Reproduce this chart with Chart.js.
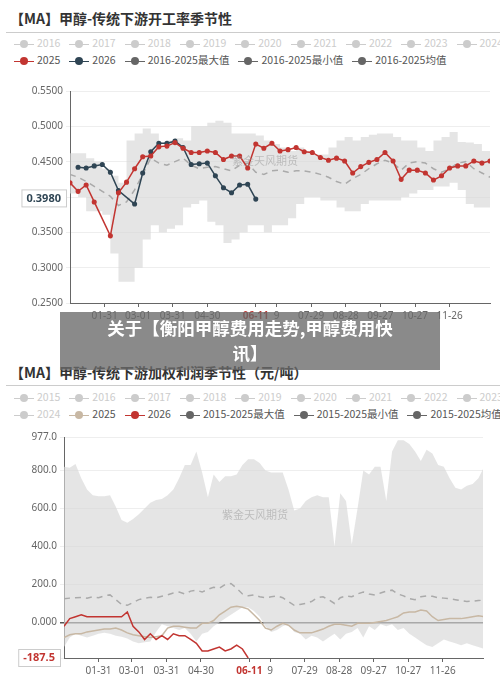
<!DOCTYPE html>
<html><head><meta charset="utf-8">
<script src="https://cdn.jsdelivr.net/npm/chart.js@4"></script>
<style>
body{margin:0;background:#fff;font-family:"Noto Sans CJK SC","Noto Sans",sans-serif;}
#wrap{position:relative;width:500px;height:681px;overflow:hidden;background:#fff}
.t{position:absolute;left:10px;font-weight:bold;font-size:14px;color:#333;font-family:"Noto Sans CJK SC";}
.hr{position:absolute;left:6px;right:0;height:1px;background:#ccc}
.lg{position:absolute;left:14px;font-size:10.5px;color:#555;white-space:nowrap}
.lg span{display:inline-block;margin-right:9px}
.lg i{display:inline-block;position:relative;width:20px;height:8px;vertical-align:middle;margin-right:3px}
.lg i:before{content:"";position:absolute;left:0;right:0;top:3.5px;height:1px;background:currentColor}
.lg i:after{content:"";position:absolute;left:6px;top:0;width:8px;height:8px;border-radius:50%;background:currentColor}
.g{color:#ccc}
canvas{position:absolute;left:0}
.wm{position:absolute;font-size:11px;color:rgba(150,150,150,0.5)}
#ban{position:absolute;left:60px;top:312px;width:380px;height:58px;background:rgba(105,105,105,0.78);color:#fff;font-weight:bold;font-size:17.5px;text-align:center;line-height:25px;padding-top:3px;box-sizing:border-box}
</style></head><body><div id="wrap">
<div class="t" style="top:8px">【MA】甲醇-传统下游开工率季节性</div>
<div class="hr" style="top:32px"></div>
<div class="lg" style="top:35px"><span class="g"><i></i>2016</span><span class="g"><i></i>2017</span><span class="g"><i></i>2018</span><span class="g"><i></i>2019</span><span class="g"><i></i>2020</span><span class="g"><i></i>2021</span><span class="g"><i></i>2022</span><span class="g"><i></i>2023</span><span class="g"><i></i>2024</span></div>
<div class="lg" style="top:52px"><span><i style="color:#c23531"></i>2025</span><span><i style="color:#2f4554"></i>2026</span><span><i style="color:#666"></i>2016-2025最大值</span><span><i style="color:#666"></i>2016-2025最小值</span><span><i style="color:#666"></i>2016-2025均值</span></div>
<canvas id="c1" width="500" height="241" style="top:82px;width:500px;height:241px"></canvas>
<div class="wm" style="left:232px;top:152px">紫金天风期货</div>
<div class="t" style="top:362px">【MA】甲醇-传统下游加权利润季节性（元/吨）</div>
<div class="hr" style="top:385px"></div>
<div class="lg" style="top:389px"><span class="g"><i></i>2015</span><span class="g"><i></i>2016</span><span class="g"><i></i>2017</span><span class="g"><i></i>2018</span><span class="g"><i></i>2019</span><span class="g"><i></i>2020</span><span class="g"><i></i>2021</span><span class="g"><i></i>2022</span><span class="g"><i></i>2023</span></div>
<div class="lg" style="top:406px"><span class="g"><i></i>2024</span><span><i style="color:#c8b8a4"></i>2025</span><span><i style="color:#c23531"></i>2026</span><span><i style="color:#666"></i>2015-2025最大值</span><span><i style="color:#666"></i>2015-2025最小值</span><span><i style="color:#666"></i>2015-2025均值</span></div>
<canvas id="c2" width="500" height="250" style="top:428px;width:500px;height:250px"></canvas>
<div class="wm" style="left:222px;top:506px">紫金天风期货</div>
<div id="ban">关于【衡阳甲醇费用走势,甲醇费用快<br>讯】</div>
</div>
<script>
// ---- top chart data (weekly) ----
const tickDays=[30,59,89,119,161,179,209,239,269,299,329];
const tickLabels=['01-31','03-01','03-31','04-30','06-11','9','07-29','08-28','09-27','10-27','11-26'];
const red25=[0.420,0.408,0.417,0.393,null,0.345,0.406,0.421,0.440,0.457,0.458,0.471,0.472,0.477,0.469,0.463,0.463,0.465,0.463,0.453,0.458,0.458,0.441,0.475,0.469,0.476,0.465,0.467,0.470,0.464,0.463,0.456,0.452,0.455,0.451,0.434,0.443,0.449,0.453,0.463,0.451,0.425,0.438,0.438,0.434,0.424,0.430,0.441,0.444,0.444,0.451,0.448,0.451];
const blue26=[null,0.442,0.441,0.444,0.446,0.435,0.409,null,0.390,0.434,0.464,0.476,0.476,0.479,0.470,0.446,0.447,0.448,0.430,0.413,0.406,0.417,0.418,0.397];
const mean1=[0.432,0.428,0.422,0.415,0.408,0.401,0.388,0.393,0.410,0.432,0.455,0.448,0.445,0.450,0.455,0.445,0.440,0.442,0.443,0.440,0.437,0.445,0.448,0.435,0.432,0.437,0.438,0.435,0.437,0.437,0.435,0.432,0.428,0.422,0.418,0.426,0.432,0.440,0.447,0.452,0.448,0.438,0.448,0.450,0.448,0.440,0.435,0.440,0.448,0.450,0.440,0.434,0.428];
const max1=[0.462,0.462,0.455,0.450,0.440,0.430,0.420,0.480,0.490,0.497,0.490,0.470,0.480,0.483,0.480,0.500,0.500,0.505,0.508,0.505,0.490,0.490,0.490,0.487,0.480,0.475,0.470,0.465,0.470,0.465,0.460,0.460,0.470,0.480,0.485,0.480,0.485,0.488,0.490,0.490,0.485,0.480,0.480,0.470,0.465,0.480,0.485,0.492,0.478,0.477,0.475,0.465,0.465];
const min1=[0.405,0.400,0.380,0.380,0.375,0.320,0.280,0.280,0.300,0.340,0.360,0.350,0.355,0.360,0.385,0.390,0.395,0.365,0.360,0.335,0.340,0.350,0.360,0.360,0.350,0.360,0.360,0.370,0.390,0.400,0.400,0.395,0.395,0.385,0.380,0.380,0.390,0.395,0.395,0.395,0.395,0.400,0.405,0.410,0.410,0.415,0.415,0.420,0.410,0.390,0.385,0.385,0.385];
// ---- bottom chart data (5-day steps) ----
const max2=[820,815,835,760,700,670,665,665,670,610,540,525,545,570,600,630,645,650,670,700,760,830,830,900,790,660,780,740,770,770,780,830,860,860,840,800,790,790,790,700,590,600,640,660,670,660,660,400,680,640,410,600,800,780,820,820,640,900,960,960,940,900,850,910,890,830,820,760,710,700,720,730,760,820];
const min2=[-130,-80,-60,-70,-80,-70,-60,-55,-60,-70,-75,-85,-100,-110,-105,-100,-50,-10,-20,-30,-40,-30,-60,-100,-60,-50,-20,0,20,40,60,80,80,60,30,-20,-50,-40,-20,-10,-50,-60,-90,-70,-80,-100,-80,-60,-90,-60,-50,-30,-80,-20,-40,-10,-20,-10,-40,-30,-60,-80,-100,-120,-130,-110,-90,-100,-110,-120,-110,-120,-130,-140];
const mean2=[125,128,130,132,128,135,130,140,145,120,95,90,105,120,128,132,130,138,145,155,160,150,165,170,160,175,185,180,200,205,180,150,140,145,135,130,135,140,130,110,90,95,100,110,130,135,120,100,130,140,135,150,160,150,145,155,165,170,150,140,125,120,135,140,138,130,128,125,120,115,110,112,115,118];
const tan25=[-80,-65,-60,-60,-50,-45,-40,-35,-35,-30,-40,-55,-65,-70,-75,-80,-75,-70,-30,-20,-20,-25,-30,-30,-5,-5,10,40,60,80,85,80,70,40,10,-30,-40,-20,-5,-15,-40,-55,-55,-55,-45,-35,-20,-10,-10,-15,-20,-5,-5,-5,0,5,10,20,30,50,55,55,65,60,30,10,15,20,20,20,25,30,35,30];
const red26=[-20,20,30,40,30,30,30,30,30,30,30,55,-20,-50,-90,-60,-90,-70,-90,-60,-70,-70,-90,-110,-150,-150,-140,-130,-150,-140,-120,-140,-187.5];
const yTicks2=[-187.5,0,200,400,600,800,977];

const pts=(arr,step)=>arr.map((v,i)=>({x:i*step,y:v}));
const W=7.0, D=5;
const hl={id:'hl',afterDraw(c,a,o){const y=c.scales.y.getPixelForValue(o.value);const ctx=c.ctx;ctx.save();ctx.font='bold 11px "Noto Sans"';const w=ctx.measureText(o.text).width+10;const x=c.chartArea.left-w-4;ctx.fillStyle='#fff';ctx.strokeStyle='#ccc';ctx.fillRect(x,y-9,w,18);ctx.strokeRect(x+0.5,y-8.5,w,17);ctx.fillStyle=o.color;ctx.textAlign='center';ctx.textBaseline='middle';ctx.fillText(o.text,x+w/2,y);ctx.restore();}};
function xScale(){return{type:'linear',min:0,max:364,afterBuildTicks(s){s.ticks=tickDays.map(v=>({value:v}));},
 ticks:{autoSkip:false,maxRotation:0,color:(c)=>c.index===4?'#c23531':'#666',font:(c)=>({size:10,weight:c.index===4?'bold':'normal',family:'"Noto Sans"'}),callback:(v,i)=>tickLabels[i]},
 grid:{drawOnChartArea:false,color:'#666',tickLength:4},border:{color:'#666'},afterFit(s){s.height=20;}};}
Chart.defaults.animation=false;
new Chart(document.getElementById('c1'),{type:'line',plugins:[hl],data:{datasets:[
 {data:pts(red25,W),borderColor:'#c23531',backgroundColor:'#c23531',borderWidth:1.5,pointRadius:1.8,spanGaps:true},
 {data:pts(blue26,W),borderColor:'#2f4554',backgroundColor:'#2f4554',borderWidth:1.5,pointRadius:1.8,spanGaps:true},
 {data:pts(mean1,W),borderColor:'#aaa',borderDash:[6,5],borderWidth:1.5,pointRadius:0},
 {data:pts(max1,W),borderWidth:0,pointRadius:0,stepped:true,fill:'+1',backgroundColor:'rgba(215,215,215,0.65)'},
 {data:pts(min1,W),borderWidth:0,pointRadius:0,stepped:true}
]},options:{responsive:false,layout:{padding:{top:6,right:10,left:0}},plugins:{legend:{display:false},tooltip:{enabled:false},hl:{value:0.398,text:'0.3980',color:'#2f4554'}},
 scales:{x:xScale(),y:{min:0.25,max:0.55,ticks:{stepSize:0.05,color:'#666',font:{size:10,family:'"Noto Sans"'},callback:v=>Math.abs(v-0.4)<1e-6?'':v.toFixed(4)},grid:{color:'#eee',tickLength:4},border:{color:'#666'},afterFit(s){s.width=70;}}}}});
new Chart(document.getElementById('c2'),{type:'line',plugins:[hl],data:{datasets:[
 {data:pts(red26,D),borderColor:'#c23531',borderWidth:1.5,pointRadius:0,tension:0},
 {data:pts(tan25,D),borderColor:'#c8b8a4',borderWidth:1.5,pointRadius:0},
 {data:pts(mean2,D),borderColor:'#aaa',borderDash:[6,5],borderWidth:1.5,pointRadius:0},
 {data:pts(max2,D),borderWidth:0,pointRadius:0,fill:'+1',backgroundColor:'rgba(215,215,215,0.65)'},
 {data:pts(min2,D),borderWidth:0,pointRadius:0}
]},options:{responsive:false,layout:{padding:{top:7,right:17,left:0}},plugins:{legend:{display:false},tooltip:{enabled:false},hl:{value:-187.5,text:'-187.5',color:'#c23531'}},
 scales:{x:xScale(),y:{min:-187.5,max:977,afterBuildTicks(s){s.ticks=yTicks2.map(v=>({value:v}));},ticks:{color:'#666',font:{size:10,family:'"Noto Sans"'},callback:v=>v===-187.5?'':(v===0?'0.000':v.toFixed(1))},grid:{color:(c)=>c.tick&&c.tick.value===0?'#555':'#eee',lineWidth:(c)=>c.tick&&c.tick.value===0?1.5:1,tickLength:4},border:{color:'#666'},afterFit(s){s.width=64;}}}}});
</script></body></html>
